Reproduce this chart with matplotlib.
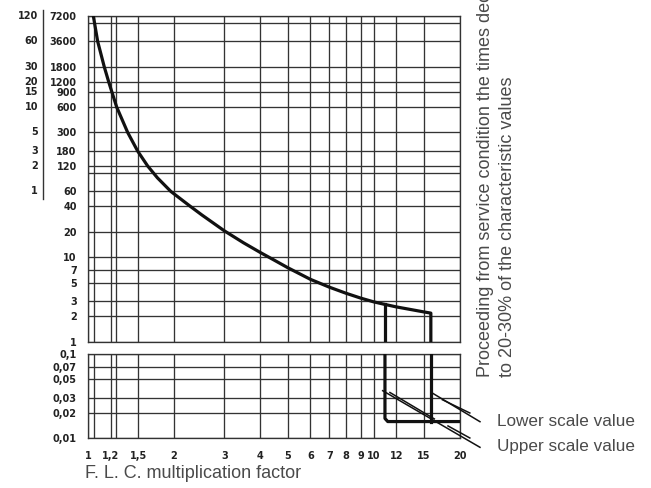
import matplotlib
matplotlib.use("Agg")
import matplotlib.pyplot as plt
import matplotlib.transforms as mtransforms
from matplotlib.ticker import FixedLocator, FixedFormatter, NullFormatter

plt.rcParams['font.family'] = ['Liberation Sans', 'DejaVu Sans']

# dati
x_ticks = [1, 1.2, 1.5, 2, 3, 4, 5, 6, 7, 8, 9, 10, 12, 15, 20]
x_labels = ['1', '1,2', '1,5', '2', '3', '4', '5', '6', '7', '8', '9', '10', '12', '15', '20']
x_extra = [1.05, 1.25]

sec_ticks = [7200, 3600, 1800, 1200, 900, 600, 300, 180, 120, 60, 40, 20, 10, 7, 5, 3, 2, 1]
sec_extra = [6000, 100]
min_labels = [120, 60, 30, 20, 15, 10, 5, 3, 2, 1]

low_ticks = [0.1, 0.07, 0.05, 0.03, 0.02, 0.01]
low_labels = ['0,1', '0,07', '0,05', '0,03', '0,02', '0,01']

# curva di intervento (secondi)
curve_x = [1.044, 1.081, 1.14, 1.181, 1.213, 1.26, 1.377, 1.493, 1.618, 1.75,
           1.95, 2.28, 2.5, 3.0, 3.5, 4.0, 4.5, 5.0, 6.0, 7.0, 8.0, 9.0, 10.0,
           10.95, 12.0, 15.0, 15.85]
curve_y = [7200, 3600, 1800, 1200, 900, 600, 300, 180, 120, 87,
           60, 40, 31.7, 20.5, 14.8, 11.4, 9.15, 7.5, 5.46, 4.4, 3.73, 3.27, 2.95,
           2.75, 2.57, 2.24, 2.17]

# banda istantanea
left_drop = 10.95
right_drop = 15.85
inst_y = 0.0158
inst_x = [10.95, 10.95, 11.2, 20]
inst_yy = [0.1, 0.0172, inst_y, inst_y]

# linee di richiamo (coordinate dati del pannello basso)
upper_lead_x = [10.75, 23.55]
upper_lead_y = [0.0367, 0.00782]
upper_dbl = [([11.4, 16.3], [0.0329, 0.0160]), ([18.2, 21.7], [0.0132, 0.0095])]
lower_lead_x = [16.09, 23.55]
lower_lead_y = [0.0342, 0.01574]
lower_dbl = [([17.4, 21.7], [0.0270, 0.0188])]

edge = '#333333'
txt = '#4a4a4a'
lab = dict(family='DejaVu Sans', fontweight='bold', fontsize=7, color='#222222')

fig = plt.figure(figsize=(6.51, 4.88), dpi=100)
W, H = 651, 488
ax_top = fig.add_axes([88 / W, (H - 341.5) / H, 371.7 / W, 325.5 / H])
ax_bot = fig.add_axes([88 / W, (H - 438.3) / H, 371.7 / W, 84.3 / H])

for ax in (ax_top, ax_bot):
    ax.set_xscale('log')
    ax.set_yscale('log')
    ax.set_xlim(1, 20)
    ax.xaxis.set_major_locator(FixedLocator(x_ticks))
    ax.xaxis.set_minor_locator(FixedLocator(x_extra))
    ax.xaxis.set_minor_formatter(NullFormatter())
    ax.yaxis.set_minor_formatter(NullFormatter())
    ax.grid(which='both', color=edge, lw=0.95)
    ax.tick_params(which='both', length=0, pad=8.1)
    for s in ax.spines.values():
        s.set_color(edge)
        s.set_linewidth(0.95)

ax_top.set_ylim(1, 7200)
ax_top.yaxis.set_major_locator(FixedLocator(sec_ticks))
ax_top.yaxis.set_major_formatter(FixedFormatter([str(v) for v in sec_ticks]))
ax_top.yaxis.set_minor_locator(FixedLocator(sec_extra))
ax_top.xaxis.set_major_formatter(NullFormatter())

ax_bot.set_ylim(0.01, 0.1)
ax_bot.yaxis.set_major_locator(FixedLocator(low_ticks))
ax_bot.yaxis.set_major_formatter(FixedFormatter(low_labels))
ax_bot.yaxis.set_minor_locator(FixedLocator([]))
ax_bot.xaxis.set_major_formatter(FixedFormatter(x_labels))
ax_bot.tick_params(axis='x', pad=9)

for ax in (ax_top, ax_bot):
    plt.setp(ax.get_xticklabels() + ax.get_yticklabels(), **lab)

# scala in minuti
bt = mtransforms.blended_transform_factory(ax_top.transAxes, ax_top.transData)
for m in min_labels:
    ax_top.text(-50 / 371.7, m * 60, str(m), transform=bt, ha='right', va='center', **lab)
ax_top.plot([-45 / 371.7] * 2, [1.018, 0.438], transform=ax_top.transAxes,
            color=edge, lw=1.0, clip_on=False)

# curva
ax_top.plot(curve_x + [right_drop], curve_y + [1], color='#111111', lw=2.3,
            solid_joinstyle='round', zorder=3)
ax_top.plot([left_drop, left_drop], [curve_y[curve_x.index(left_drop)], 1],
            color='#111111', lw=2.3, zorder=3)

ax_bot.plot(inst_x, inst_yy, color='#111111', lw=2.3, solid_joinstyle='round', zorder=3)
ax_bot.plot([right_drop, right_drop], [0.1, inst_y], color='#111111', lw=2.3, zorder=3)

# richiami
ax_bot.plot(upper_lead_x, upper_lead_y, color='#111111', lw=1.1, clip_on=False, zorder=4)
ax_bot.plot(lower_lead_x, lower_lead_y, color='#111111', lw=1.1, clip_on=False, zorder=4)
off = mtransforms.offset_copy(ax_bot.transData, fig=fig, x=0, y=2.2, units='dots')
for sx, sy in upper_dbl + lower_dbl:
    ax_bot.plot(sx, sy, color='#111111', lw=1.1, transform=off, clip_on=False, zorder=4)

ax_bot.text(27.0, 0.0158, 'Lower scale value', fontsize=12.3, color=txt,
            ha='left', va='center', clip_on=False)
ax_bot.text(27.0, 0.0079, 'Upper scale value', fontsize=12.3, color=txt,
            ha='left', va='center', clip_on=False)

fig.text(85 / W, (H - 474) / H, 'F. L. C. multiplication factor', fontsize=13,
         color=txt, ha='left', va='center')

fig.text(486 / W, (H - 377) / H,
         'Proceeding from service condition the times decrease',
         rotation=90, fontsize=13, color=txt, ha='center', va='bottom')
fig.text(508 / W, (H - 377) / H, 'to 20-30% of the characteristic values',
         rotation=90, fontsize=13, color=txt, ha='center', va='bottom')

fig.savefig('out.png', dpi=100)
